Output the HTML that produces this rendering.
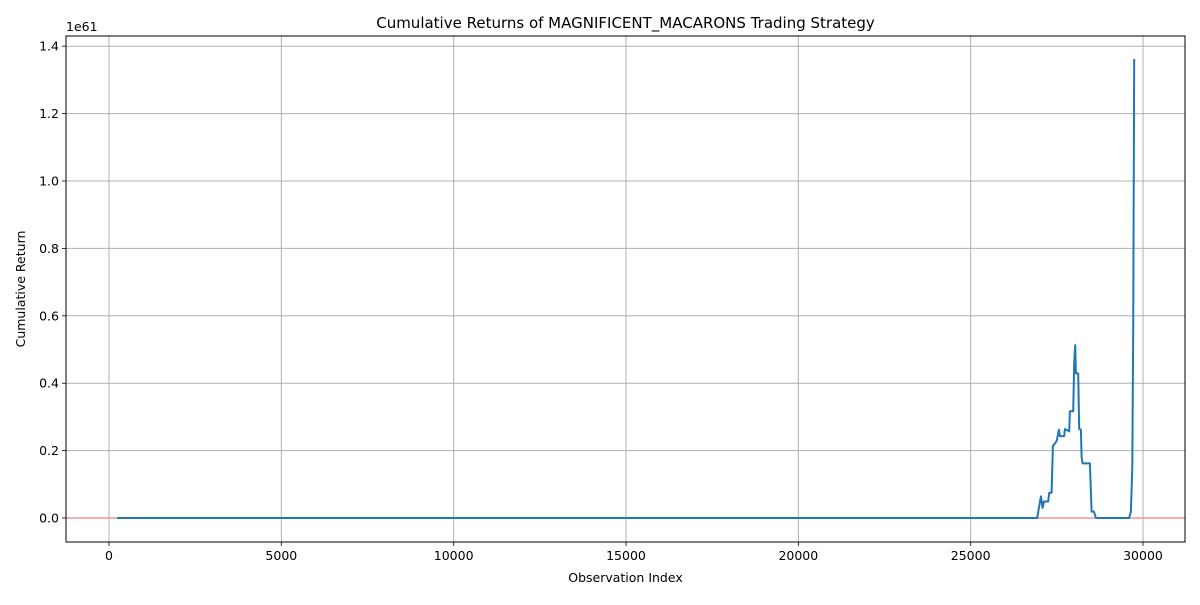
<!DOCTYPE html>
<html><head><meta charset="utf-8"><style>
body{margin:0;background:#fff;font-family:"Liberation Sans","DejaVu Sans",sans-serif}
svg text{font-family:"DejaVu Sans","Liberation Sans",sans-serif}
</style></head><body>
<svg id="chart" width="1200" height="600" xmlns="http://www.w3.org/2000/svg"></svg>
<script>
const xTicks=[0,5000,10000,15000,20000,25000,30000];
const yTicks=[0.0,0.2,0.4,0.6,0.8,1.0,1.2,1.4];
const obsIndex=[232,26930,27038,27087,27125,27250,27279,27348,27386,27453,27502,27560,27589,27713,27734,27859,27879,27975,28004,28033,28053,28120,28149,28198,28219,28248,28460,28509,28575,28633,29599,29649,29690,29715,29744];
const cumReturn=[0,0,0.064,0.030,0.049,0.049,0.075,0.075,0.214,0.222,0.231,0.262,0.243,0.243,0.264,0.257,0.317,0.317,0.459,0.513,0.429,0.429,0.264,0.262,0.181,0.162,0.162,0.019,0.019,0,0,0.019,0.15,0.557,1.362];
const L=66,R=1185,T=36,B=542;
const X=v=>109+v*(1034/30000);
const Y=v=>518-v*(337/1.0);
const svg=document.getElementById('chart');
const NS='http://www.w3.org/2000/svg';
function mk(tag,attrs,parent){const e=document.createElementNS(NS,tag);for(const k in attrs)e.setAttribute(k,attrs[k]);(parent||svg).appendChild(e);return e;}
const grid=mk('g',{});


xTicks.forEach(t=>{
  const x=X(t);
  const g=mk('line',{x1:x,x2:x,y1:T,y2:B,stroke:'#b0b0b0','stroke-width':1},grid);
  
  
  const tk=mk('line',{x1:x,x2:x,y1:B,y2:B+4,stroke:'#000','stroke-width':0.8});
  
  
  const lb=mk('text',{x:x,y:B+18,'text-anchor':'middle','font-size':12.5});
  lb.textContent=t;
  
  
});
yTicks.forEach(t=>{
  const y=Y(t);
  const g=mk('line',{x1:L,x2:R,y1:y,y2:y,stroke:'#b0b0b0','stroke-width':1},grid);
  
  
  const tk=mk('line',{x1:L-4,x2:L,y1:y,y2:y,stroke:'#000','stroke-width':0.8});
  
  
  const lb=mk('text',{x:L-7,y:y+4.5,'text-anchor':'end','font-size':12.5});
  lb.textContent=t.toFixed(1);
  
  
});
const zl=mk('line',{x1:L,x2:R,y1:Y(0),y2:Y(0),stroke:'#f08080','stroke-width':1.2});


const pts=obsIndex.map((v,i)=>X(v).toFixed(1)+','+Y(cumReturn[i]).toFixed(1)).join(' ');
const line=mk('polyline',{points:pts,fill:'none',stroke:'#1f77b4','stroke-width':2,'stroke-linejoin':'round'});


const frame=mk('rect',{x:L,y:T,width:R-L,height:B-T,fill:'none',stroke:'#000','stroke-width':1});


const off=mk('text',{x:L,y:T-5,'font-size':12.5});
off.textContent='1e61';


const title=mk('text',{x:(L+R)/2,y:28,'text-anchor':'middle','font-size':15});
title.textContent='Cumulative Returns of MAGNIFICENT_MACARONS Trading Strategy';


const xt=mk('text',{x:(L+R)/2,y:582,'text-anchor':'middle','font-size':12.5});
xt.textContent='Observation Index';


const yt=mk('text',{x:25,y:(T+B)/2,'text-anchor':'middle','font-size':12.5,transform:'rotate(-90 25 '+((T+B)/2)+')'});
yt.textContent='Cumulative Return';


</script>
</body></html>
